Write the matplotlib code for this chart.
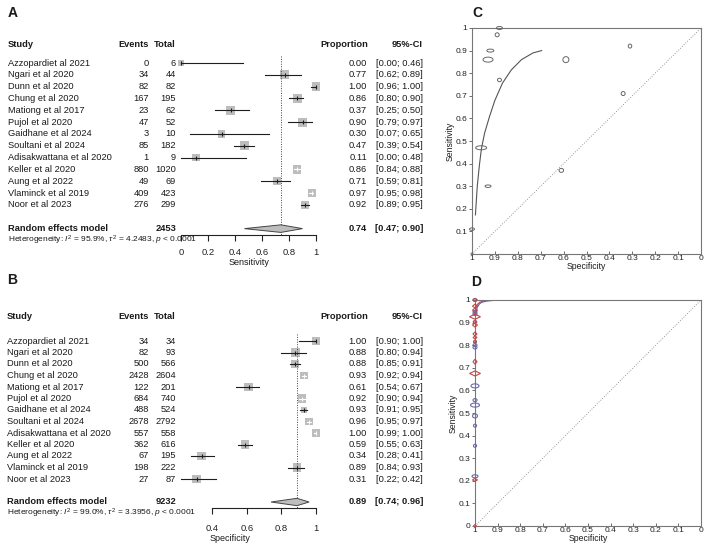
import numpy as np
import matplotlib
matplotlib.use("Agg")
import matplotlib.pyplot as plt
from matplotlib import transforms
from matplotlib.patches import Ellipse, Polygon

plt.rcParams['font.family'] = ['Liberation Sans', 'DejaVu Sans']
plt.rcParams['mathtext.fontset'] = 'custom'
plt.rcParams['mathtext.rm'] = 'Liberation Sans'
plt.rcParams['mathtext.it'] = 'Liberation Sans:italic'
plt.rcParams['mathtext.bf'] = 'Liberation Sans:bold'

W, H = 707, 545

# ---- data ----
studies = ["Azzopardiet al 2021", "Ngari et al 2020", "Dunn et al 2020", "Chung et al 2020",
           "Mationg et al 2017", "Pujol et al 2020", "Gaidhane et al 2024", "Soultani et al 2024",
           "Adisakwattana et al 2020", "Keller et al 2020", "Aung et al 2022",
           "Vlaminck et al 2019", "Noor et al 2023"]

sens_events = [0, 34, 82, 167, 23, 47, 3, 85, 1, 880, 49, 409, 276]
sens_total = [6, 44, 82, 195, 62, 52, 10, 182, 9, 1020, 69, 423, 299]
sens_prop = [0.00, 0.77, 1.00, 0.86, 0.37, 0.90, 0.30, 0.47, 0.11, 0.86, 0.71, 0.97, 0.92]
sens_lo = [0.00, 0.62, 0.96, 0.80, 0.25, 0.79, 0.07, 0.39, 0.00, 0.84, 0.59, 0.95, 0.89]
sens_hi = [0.46, 0.89, 1.00, 0.90, 0.50, 0.97, 0.65, 0.54, 0.48, 0.88, 0.81, 0.98, 0.95]
sens_weight = [2.6, 7.8, 7.4, 7.8, 7.8, 7.6, 6.0, 7.8, 5.6, 6.4, 6.6, 6.2, 6.0]
sens_pooled = [0.74, 0.47, 0.90]
sens_n = 2453
sens_het = r"Heterogeneity: $I^2$ = 95.9%, $\tau^2$ = 4.2483, $p$ < 0.0001"

spec_events = [34, 82, 500, 2428, 122, 684, 488, 2678, 557, 362, 67, 198, 27]
spec_total = [34, 93, 566, 2604, 201, 740, 524, 2792, 558, 616, 195, 222, 87]
spec_prop = [1.00, 0.88, 0.88, 0.93, 0.61, 0.92, 0.93, 0.96, 1.00, 0.59, 0.34, 0.89, 0.31]
spec_lo = [0.90, 0.80, 0.85, 0.92, 0.54, 0.90, 0.91, 0.95, 0.99, 0.55, 0.28, 0.84, 0.22]
spec_hi = [1.00, 0.94, 0.91, 0.94, 0.67, 0.94, 0.95, 0.97, 1.00, 0.63, 0.41, 0.93, 0.42]
spec_weight = [5.4, 7.2, 6.0, 6.0, 7.4, 6.6, 4.4, 6.0, 5.6, 7.2, 7.4, 7.2, 7.4]
spec_pooled = [0.89, 0.74, 0.96]
spec_n = 9232
spec_het = r"Heterogeneity: $I^2$ = 99.0%, $\tau^2$ = 3.3956, $p$ < 0.0001"

# SROC curve of panel C (specificity, sensitivity)
c_curve_spec = [0.985, 0.977, 0.968, 0.959, 0.945, 0.923, 0.900, 0.867, 0.828, 0.784, 0.733, 0.696]
c_curve_sens = [0.173, 0.300, 0.390, 0.465, 0.535, 0.610, 0.680, 0.756, 0.815, 0.860, 0.890, 0.900]

# panel D: two models, all studies at specificity 1
d_blue_sens = [1.0, 0.947, 0.938, 0.903, 0.815, 0.80, 0.79, 0.62, 0.557, 0.535, 0.487, 0.444, 0.355, 0.22]
d_red_sens = [1.0, 0.973, 0.955, 0.926, 0.903, 0.889, 0.85, 0.834, 0.815, 0.727, 0.675, 0.204, 0.0]
d_blue_curve_spec = [1.0, 0.995, 0.99, 0.98, 0.97, 0.95, 0.92, 0.85, 0.70]
d_blue_curve_sens = [0.93, 0.950, 0.968, 0.983, 0.990, 0.995, 0.998, 1.0, 1.0]
d_red_curve_spec = [1.0, 0.995, 0.99, 0.98, 0.96, 0.93, 0.85, 0.70]
d_red_curve_sens = [0.955, 0.970, 0.980, 0.990, 0.996, 0.999, 1.0, 1.0]

# marker sizes in pixels
c_ell_w = [2, 4, 6, 10, 4.5, 7, 6, 11, 5, 6, 4, 4, 3.5]
c_ell_h = [2, 3.5, 3, 5, 4, 3, 2.5, 4, 2.5, 6, 4, 4, 4]
d_blue_w = [4, 4, 4, 3, 3, 4, 4, 8, 4, 9, 5, 3, 3, 6]
d_blue_h = [3, 3, 3, 3, 3, 3, 3, 4, 3, 4, 4, 3, 3, 3]
d_red_w = [4, 5, 5, 11, 4, 5, 4, 4, 3, 4, 11, 5, 3]
d_red_h = [3, 4, 4, 5, 3, 4, 4, 3, 3, 5, 5, 3, 3]

fig = plt.figure(figsize=(W / 100, H / 100), dpi=100)
TXT = '#1a1a1a'


def box(l, t, r, b):
    return [l / W, 1 - b / H, (r - l) / W, (b - t) / H]


def forest(x0, x1, row0, drow, names, ev, tot, prop, lo, hi, wt, pooled, ntot, het,
           xlabel, xticks, head_row, pad, lbl_x):
    top = row0 - 2.5 * drow
    bot = row0 + 14.5 * drow
    ax = fig.add_axes(box(x0, top, x1, bot))
    ax.set_xlim(0, 1)
    ax.set_ylim(14.5, -2.5)
    tr = transforms.blended_transform_factory(fig.transFigure, ax.transData)
    px_unit = x1 - x0
    rows = np.arange(len(names))
    side = 2.32 * np.sqrt(wt)          # square side in points
    ax.scatter(prop, rows, marker='s', s=side ** 2, color='#bdbdbd', lw=0, zorder=2, clip_on=False)
    for r, p, l, h, s in zip(rows, prop, lo, hi, side):
        # CI fully inside the square -> drawn white
        c = 'white' if max(p - l, h - p) * px_unit < s / 0.72 / 2 else '#1e1e1e'
        ax.plot([l, h], [r, r], color=c, lw=0.8, zorder=3, clip_on=False)
        ax.plot(p, r, marker='|', ms=3, mew=0.8, color=c, zorder=4, clip_on=False)
    est, plo, phi = pooled
    ax.add_patch(Polygon([[plo, 14], [est, 13.68], [phi, 14], [est, 14.32]], closed=True,
                         fc='#bdbdbd', ec='#444444', lw=0.7, zorder=3, clip_on=False))
    ax.plot([est, est], [-0.6, 14.5], ls=(0, (1, 1.5)), color='#444444', lw=0.7)

    for s in ['top', 'left', 'right']:
        ax.spines[s].set_visible(False)
    ax.spines['bottom'].set_bounds(xticks[0], xticks[-1])
    ax.spines['bottom'].set_color('#222222')
    ax.spines['bottom'].set_linewidth(0.8)
    ax.set_yticks([])
    ax.set_xticks(xticks)
    ax.set_xticklabels(['%g' % t for t in xticks])
    ax.tick_params(axis='x', length=4.5, width=0.8, pad=pad, labelsize=6.8, colors='#222222')
    ax.set_xlabel(xlabel, fontsize=6.5, labelpad=1, color=TXT)

    fs = 6.7
    cx = {'name': lbl_x / W, 'ev': 149 / W, 'tot': 176 / W, 'prop': 367 / W, 'ci': 423 / W}
    ax.text(cx['name'], head_row, "Study", transform=tr, fontsize=fs, weight='bold', va='center', color=TXT)
    ax.text(cx['ev'], head_row, "Events", transform=tr, fontsize=fs, weight='bold', va='center', ha='right', color=TXT)
    ax.text(cx['tot'], head_row, "Total", transform=tr, fontsize=fs, weight='bold', va='center', ha='right', color=TXT)
    ax.text(368 / W, head_row, "Proportion", transform=tr, fontsize=fs, weight='bold', va='center', ha='right', color=TXT)
    ax.text(cx['ci'], head_row, "95%-CI", transform=tr, fontsize=fs, weight='bold', va='center', ha='right', color=TXT)
    for r, n, e, t, p, l, h in zip(rows, names, ev, tot, prop, lo, hi):
        ax.text(cx['name'], r, n, transform=tr, fontsize=fs, va='center', color=TXT)
        ax.text(cx['ev'], r, str(e), transform=tr, fontsize=fs, va='center', ha='right', color=TXT)
        ax.text(cx['tot'], r, str(t), transform=tr, fontsize=fs, va='center', ha='right', color=TXT)
        ax.text(cx['prop'], r, '%.2f' % p, transform=tr, fontsize=fs, va='center', ha='right', color=TXT)
        ax.text(cx['ci'], r, '[%.2f; %.2f]' % (l, h), transform=tr, fontsize=fs, va='center', ha='right', color=TXT)
    ax.text(cx['name'], 14, "Random effects model", transform=tr, fontsize=fs, weight='bold', va='center', color=TXT)
    ax.text(cx['tot'], 14, str(ntot), transform=tr, fontsize=fs, weight='bold', va='center', ha='right', color=TXT)
    ax.text(cx['prop'], 14, '%.2f' % est, transform=tr, fontsize=fs, weight='bold', va='center', ha='right', color=TXT)
    ax.text(cx['ci'], 14, '[%.2f; %.2f]' % (plo, phi), transform=tr, fontsize=fs, weight='bold', va='center', ha='right', color=TXT)
    ax.text(cx['name'], 15, het, transform=tr, fontsize=6.0, va='center', color=TXT)
    return ax


forest(181, 316, 63, 11.83, studies, sens_events, sens_total, sens_prop, sens_lo, sens_hi,
       sens_weight, sens_pooled, sens_n, sens_het, "Sensitivity", [0, 0.2, 0.4, 0.6, 0.8, 1.0], -1.6, 5.0, 8)
forest(143, 316, 341, 11.5, studies, spec_events, spec_total, spec_prop, spec_lo, spec_hi,
       spec_weight, spec_pooled, spec_n, spec_het, "Specificity", [0.4, 0.6, 0.8, 1.0], -2.1, 7.0, 7)


def roc_axes(l, t, r, b, yt):
    ax = fig.add_axes(box(l, t, r, b))
    ax.set_xlim(1, 0)
    ax.set_ylim(0, 1)
    xt = [1.0, 0.9, 0.8, 0.7, 0.6, 0.5, 0.4, 0.3, 0.2, 0.1, 0.0]
    ax.set_xticks(xt)
    ax.set_xticklabels(['%g' % v for v in xt])
    ax.set_yticks(yt)
    ax.set_yticklabels(['%g' % v for v in yt])
    ax.tick_params(axis='y', length=2.5, width=0.6, pad=1, labelsize=6.0, colors='#555555', labelcolor='#222222')
    ax.tick_params(axis='x', direction='in', length=2.5, width=0.6, pad=1, labelsize=6.0, colors='#555555', labelcolor='#222222')
    for s in ax.spines.values():
        s.set_color('#777777')
        s.set_linewidth(0.8)
    ax.plot([1, 0], [0, 1], ls=(0, (1, 2)), color='#777777', lw=0.6)
    ax.set_xlabel("Specificity", fontsize=6.2, labelpad=-0.5, color=TXT)
    ax.set_ylabel("Sensitivity", fontsize=6.2, labelpad=0.5, color=TXT)
    return ax


yt_c = [0.1, 0.2, 0.3, 0.4, 0.5, 0.6, 0.7, 0.8, 0.9, 1.0]
axc = roc_axes(472, 28, 701, 254, yt_c)
axc.plot(c_curve_spec, c_curve_sens, color='#555555', lw=0.8)
for x, y, w, h in zip(spec_prop, sens_prop, c_ell_w, c_ell_h):
    axc.add_patch(Ellipse((x, y), w / 229, h / 226, fill=False, ec='#666666', lw=0.7, clip_on=False, zorder=3))

yt_d = [0.0, 0.1, 0.2, 0.3, 0.4, 0.5, 0.6, 0.7, 0.8, 0.9, 1.0]
axd = roc_axes(475, 300, 701, 526, yt_d)
axd.plot(d_blue_curve_spec, d_blue_curve_sens, color='#5a5aa0', lw=0.8)
axd.plot(d_red_curve_spec, d_red_curve_sens, color='#c04848', lw=0.8)
for y, w, h in zip(d_blue_sens, d_blue_w, d_blue_h):
    axd.add_patch(Ellipse((1.0, y), w / 226, h / 226, fill=False, ec='#6a6aaa', lw=0.8, clip_on=False, zorder=3))
for y, w, h in zip(d_red_sens, d_red_w, d_red_h):
    dx, dy = w / 2 / 226, h / 2 / 226
    axd.add_patch(Polygon([[1.0 + dx, y], [1.0, y + dy], [1.0 - dx, y], [1.0, y - dy]], closed=True,
                          fill=False, ec='#c04848', lw=0.8, clip_on=False, zorder=3))

for lab, x, y in [("A", 8, 13), ("B", 7, 280), ("C", 472, 13), ("D", 471, 282)]:
    fig.text(x / W, 1 - y / H, lab, fontsize=10, weight='bold', va='center', color=TXT)

fig.savefig("out.png", dpi=100)
